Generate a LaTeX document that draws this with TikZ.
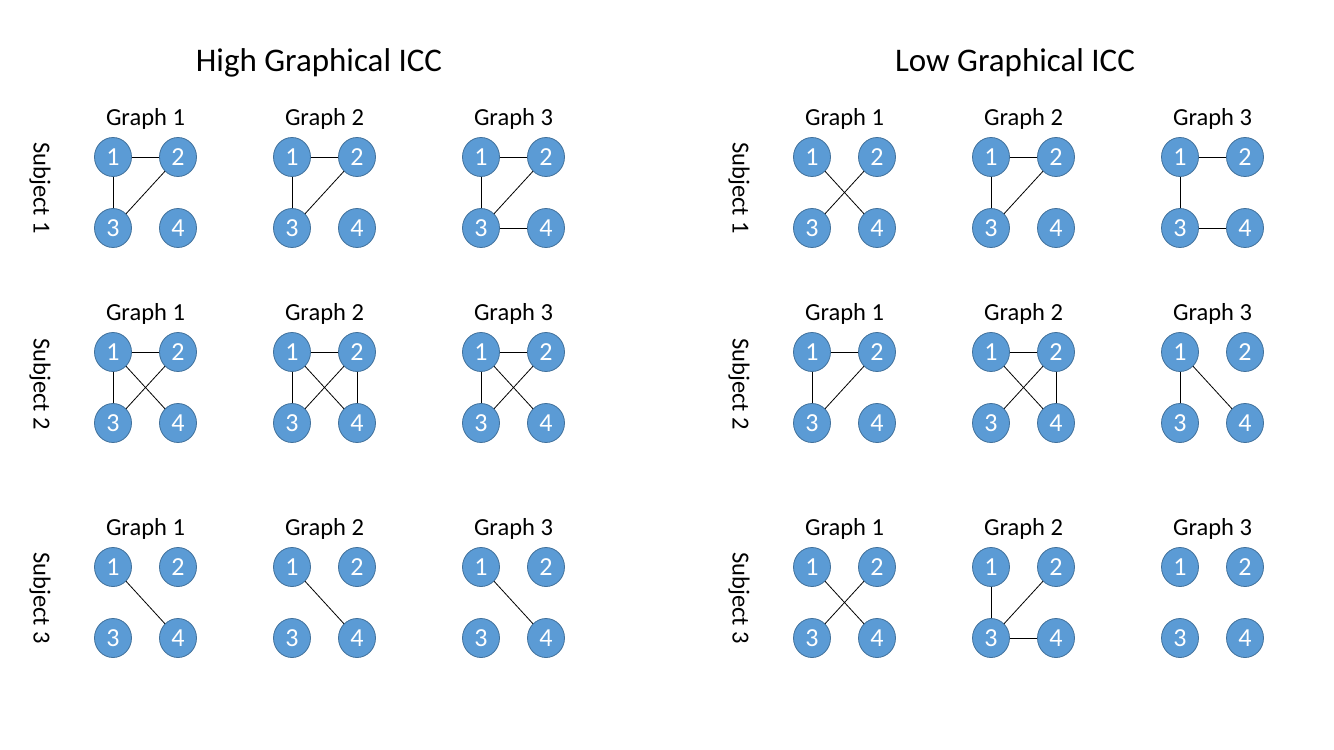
\documentclass[tikz,border=0pt]{standalone}
\usepackage{fontspec}
\setmainfont{Carlito}
\usetikzlibrary{shapes.geometric}
\definecolor{nodefill}{HTML}{5B9BD5}
\definecolor{nodeline}{HTML}{41719C}
\tikzset{
 vert/.style={ellipse, fill=nodefill, draw=nodeline, line width=0.8pt, minimum width=37pt, minimum height=39pt, inner sep=0pt, text=white, font=\fontsize{26}{26}\selectfont},
 edge/.style={black, line width=0.8pt},
 glabel/.style={font=\fontsize{24.5}{26}\selectfont, inner sep=0pt},
 titletext/.style={font=\fontsize{33}{36}\selectfont, inner sep=0pt},
 subj/.style={font=\fontsize{24.5}{26}\selectfont, rotate=-90, inner sep=0pt},
}
\newcommand\mkgraph[4]{%
 \node[glabel] (#1-t) at (#2+32.5,#3-38) {#4};
 \node[vert] (#1-1) at (#2,#3) {1};
 \node[vert] (#1-2) at (#2+65,#3) {2};
 \node[vert] (#1-3) at (#2,#3+71) {3};
 \node[vert] (#1-4) at (#2+65,#3+71) {4};
}
\newcommand\mkedges[2]{\foreach \a/\b in {#2} {\draw[edge] (#1-\a) -- (#1-\b);}}
\begin{document}
\begin{tikzpicture}[x=1pt,y=-1pt]
\fill[white] (0,0) rectangle (1334,750);
\useasboundingbox (0,0) rectangle (1334,750);
\node[titletext] (th) at (319,63) {High Graphical ICC};
\node[titletext] (tl) at (1015,63) {Low Graphical ICC};
\node[subj] (hs1) at (40,188) {Subject 1};
\node[subj] (hs2) at (40,384) {Subject 2};
\node[subj] (hs3) at (40,598) {Subject 3};
\node[subj] (ls1) at (739,188) {Subject 1};
\node[subj] (ls2) at (739,384) {Subject 2};
\node[subj] (ls3) at (739,598) {Subject 3};
% High
\mkgraph{ha}{113}{157}{Graph 1}
\mkgraph{hb}{292}{157}{Graph 2}
\mkgraph{hc}{481}{157}{Graph 3}
\mkgraph{hd}{113}{352}{Graph 1}
\mkgraph{he}{292}{352}{Graph 2}
\mkgraph{hf}{481}{352}{Graph 3}
\mkgraph{hg}{113}{567}{Graph 1}
\mkgraph{hh}{292}{567}{Graph 2}
\mkgraph{hi}{481}{567}{Graph 3}
\mkedges{ha}{1/2,1/3,2/3}
\mkedges{hb}{1/2,1/3,2/3}
\mkedges{hc}{1/2,1/3,2/3,3/4}
\mkedges{hd}{1/2,1/3,1/4,2/3}
\mkedges{he}{1/2,1/3,1/4,2/3,2/4}
\mkedges{hf}{1/2,1/3,1/4,2/3}
\mkedges{hg}{1/4}
\mkedges{hh}{1/4}
\mkedges{hi}{1/4}
% Low
\mkgraph{la}{812}{157}{Graph 1}
\mkgraph{lb}{991}{157}{Graph 2}
\mkgraph{lc}{1180}{157}{Graph 3}
\mkgraph{ld}{812}{352}{Graph 1}
\mkgraph{le}{991}{352}{Graph 2}
\mkgraph{lf}{1180}{352}{Graph 3}
\mkgraph{lg}{812}{567}{Graph 1}
\mkgraph{lh}{991}{567}{Graph 2}
\mkgraph{li}{1180}{567}{Graph 3}
\mkedges{la}{1/4,2/3}
\mkedges{lb}{1/2,1/3,2/3}
\mkedges{lc}{1/2,1/3,3/4}
\mkedges{ld}{1/2,1/3,2/3}
\mkedges{le}{1/2,1/4,2/3,2/4}
\mkedges{lf}{1/3,1/4}
\mkedges{lg}{1/4,2/3}
\mkedges{lh}{1/3,2/3,3/4}
\end{tikzpicture}
\end{document}
